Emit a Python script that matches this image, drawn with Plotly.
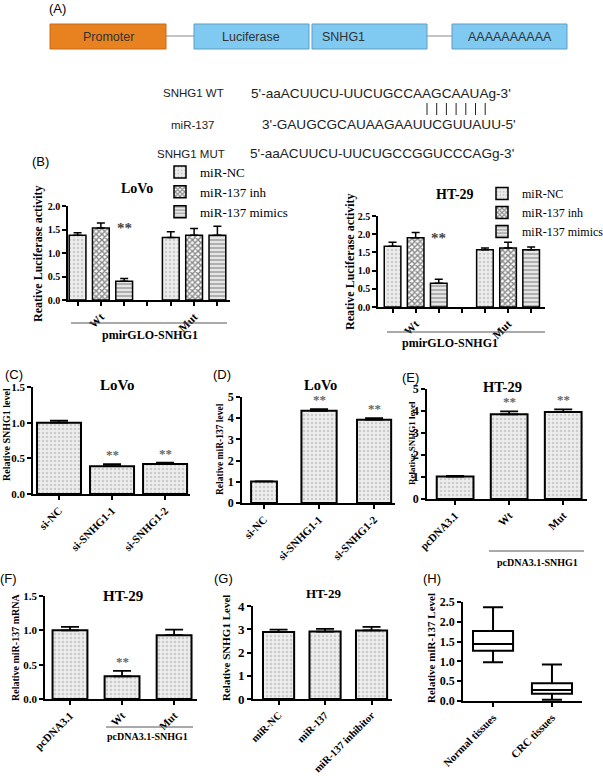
import plotly.graph_objects as go

W, H = 603, 776
SERIF = "Liberation Serif"
SANS = "Liberation Sans"

# ---------------- data ----------------
# Panel B (luciferase)
b_groups = ["Wt", "Mut"]
b_treat = ["miR-NC", "miR-137 inh", "miR-137 mimics"]
lovo_nc, lovo_nc_err = [1.38, 1.33], [0.05, 0.12]
lovo_inh, lovo_inh_err = [1.53, 1.38], [0.11, 0.14]
lovo_mim, lovo_mim_err = [0.40, 1.38], [0.06, 0.19]
ht_nc, ht_nc_err = [1.67, 1.57], [0.11, 0.05]
ht_inh, ht_inh_err = [1.90, 1.62], [0.15, 0.16]
ht_mim, ht_mim_err = [0.65, 1.57], [0.11, 0.08]

# Panel C
c_cats = ["si-NC", "si-SNHG1-1", "si-SNHG1-2"]
c_vals, c_err = [1.00, 0.39, 0.42], [0.03, 0.03, 0.02]
# Panel D
d_cats = ["si-NC", "si-SNHG1-1", "si-SNHG1-2"]
d_vals, d_err = [1.02, 4.35, 3.93], [0.0, 0.08, 0.07]
# Panel E
e_cats = ["pcDNA3.1", "Wt", "Mut"]
e_vals, e_err = [1.02, 3.85, 3.95], [0.03, 0.13, 0.12]
# Panel F
f_cats = ["pcDNA3.1", "Wt", "Mut"]
f_vals, f_err = [1.00, 0.33, 0.93], [0.05, 0.08, 0.08]
# Panel G
g_cats = ["miR-NC", "miR-137", "miR-137 inhibitor"]
g_vals, g_err = [2.88, 2.90, 2.95], [0.10, 0.12, 0.15]
# Panel H (box plot)
h_cats = ["Normal tissues", "CRC tissues"]
h_low = [0.98, 0.03]
h_q1 = [1.27, 0.18]
h_med = [1.44, 0.28]
h_q3 = [1.77, 0.45]
h_high = [2.37, 0.92]

# Panel A texts
a_boxes = ["Promoter", "Luciferase", "SNHG1", "AAAAAAAAAA"]
seq_labels = ["SNHG1 WT", "miR-137", "SNHG1 MUT"]
seq_texts = ["5'-aaACUUCU-UUCUGCCAAGCAAUAg-3'",
             "3'-GAUGCGCAUAAGAAUUCGUUAUU-5'",
             "5'-aaACUUCU-UUCUGCCGGUCCCAGg-3'"]
n_pairs = 7  # base pairs in the seed match

# ---------------- helpers ----------------
def px(x):
    return x / W

def py(y):
    return 1 - y / H

fig = go.Figure()
layout = dict(width=W, height=H, margin=dict(l=0, r=0, t=0, b=0, autoexpand=False),
              paper_bgcolor="white", plot_bgcolor="white",
              barmode="overlay", showlegend=True)
annotations = []
shapes = []

def tfont(size):
    return dict(family=SERIF, size=size, color="black", weight="bold")

def add_axes(i, xpx, ypx, xrange, yrange, dtick, fmt, ysize, xsize,
             tickvals=None, ticktext=None, lw=1.5):
    xa = dict(domain=[px(xpx[0]), px(xpx[1])], range=xrange, anchor="y%d" % i,
              showline=True, linecolor="black", linewidth=lw, ticks="outside",
              ticklen=4, tickwidth=lw, tickcolor="black", tickangle=-45,
              tickfont=tfont(xsize), showgrid=False, zeroline=False, automargin=False)
    if tickvals is not None:
        xa.update(tickmode="array", tickvals=tickvals, ticktext=ticktext)
    ya = dict(domain=[py(ypx[0]), py(ypx[1])], range=yrange, anchor="x%d" % i,
              showline=True, linecolor="black", linewidth=lw, ticks="outside",
              ticklen=4, tickwidth=lw, tickcolor="black", dtick=dtick,
              tickformat=fmt, tickfont=tfont(ysize), showgrid=False,
              zeroline=False, tick0=0, automargin=False)
    layout["xaxis%d" % i if i > 1 else "xaxis"] = xa
    layout["yaxis%d" % i if i > 1 else "yaxis"] = ya

def ax(i):
    return ("x%d" % i if i > 1 else "x"), ("y%d" % i if i > 1 else "y")

def text(x, y, s, size, family=SERIF, bold=True, color="black", angle=0,
         xanchor="center", yanchor="middle"):
    f = dict(family=family, size=size, color=color)
    if bold:
        f["weight"] = "bold"
    annotations.append(dict(x=px(x), y=py(y), xref="paper", yref="paper",
                            text=s, showarrow=False, font=f, textangle=angle,
                            xanchor=xanchor, yanchor=yanchor))

def err(arr, width, th=1.5):
    return dict(type="data", array=arr, arrayminus=[0] * len(arr),
                symmetric=False, color="black", thickness=th, width=width)

dots = dict(shape=".", fgcolor="#a8a8a8", bgcolor="#ededed", size=4, solidity=0.3)
check = dict(shape="x", fgcolor="#111111", bgcolor="#ffffff", size=4, solidity=0.6)
stripes = dict(shape="-", fgcolor="#6e6e6e", bgcolor="#e6e6e6", size=4, solidity=0.45)
patterns = [dots, check, stripes]

# ---------------- Panel A ----------------
box_px = [(50, 166, "#E8811F", "#C86A14"), (194, 309, "#80C9F0", "#5B9DC4"),
          (312, 427, "#80C9F0", "#5B9DC4"), (452, 567, "#80C9F0", "#5B9DC4")]
shapes.append(dict(type="line", xref="paper", yref="paper", x0=px(166), x1=px(194),
                   y0=py(36), y1=py(36), line=dict(color="#b0b0b0", width=1.5)))
shapes.append(dict(type="line", xref="paper", yref="paper", x0=px(427), x1=px(452),
                   y0=py(36), y1=py(36), line=dict(color="#b0b0b0", width=1.5)))
for (x0, x1, fc, lc), lab in zip(box_px, a_boxes):
    shapes.append(dict(type="rect", xref="paper", yref="paper", x0=px(x0), x1=px(x1),
                       y0=py(49), y1=py(24), fillcolor=fc, line=dict(color=lc, width=1)))
text(108, 37, a_boxes[0], 12.5, SANS, False, "#333")
text(251, 37, a_boxes[1], 12.5, SANS, False, "#333")
text(343, 37, a_boxes[2], 12.5, SANS, False, "#333")
text(510, 37, a_boxes[3], 12.5, SANS, False, "#333")
text(57, 9, "(A)", 13, SANS, False)
lab_y = [93, 125, 154]
lab_x = [193, 192, 191]
seq_x = [249, 260, 248]
for lab, s, ly, lx, sx in zip(seq_labels, seq_texts, lab_y, lab_x, seq_x):
    text(lx, ly, lab, 11.5, SANS, False, "#222")
    text(sx, ly, s, 13.6, SANS, False, "#222", xanchor="left")
for k in range(n_pairs):
    xk = 427 + k * 9.7
    shapes.append(dict(type="line", xref="paper", yref="paper", x0=px(xk), x1=px(xk),
                       y0=py(103), y1=py(115), line=dict(color="#222", width=1)))

# ---------------- Panel B ----------------
def panel_b(i, xpx, ypx, xrange, ymax, series, errs, title, tpos, legend):
    add_axes(i, xpx, ypx, xrange, [0, ymax], 0.5, ".1f", 10, 11.5,
             tickvals=list(range(7)), ticktext=["", "Wt", "", "", "", "Mut", ""])
    xa, ya = ax(i)
    for t, (vals, e, name, pat) in enumerate(zip(series, errs, b_treat, patterns)):
        xs = [g * 4 + t for g in range(len(b_groups))]
        fig.add_trace(go.Bar(x=xs, y=vals, width=0.72, name=name, xaxis=xa, yaxis=ya,
                             marker=dict(color=pat["bgcolor"], pattern=pat,
                                         line=dict(color="black", width=1.5)),
                             error_y=err(e, 4), legend=legend))
    annotations.append(dict(x=2, y=series[1][0], xref=xa, yref=ya, text="**",
                            showarrow=False, yanchor="middle",
                            font=dict(family=SERIF, size=15, color="#444", weight="bold")))
    text(tpos[0], tpos[1], title, 14)

panel_b(1, (68, 230), (300, 206), [-0.41, 6.54], 2.0,
        [lovo_nc, lovo_inh, lovo_mim], [lovo_nc_err, lovo_inh_err, lovo_mim_err],
        "LoVo", (137, 188), "legend")
panel_b(2, (378, 545), (307, 216), [-0.63, 6.6], 2.5,
        [ht_nc, ht_inh, ht_mim], [ht_nc_err, ht_inh_err, ht_mim_err],
        "HT-29", (455, 194), "legend2")
text(40, 161, "(B)", 13, SANS, False)
text(38, 254, "Reative Luciferase activity", 12, angle=-90)
text(350, 262, "Reative Luciferase activity", 12, angle=-90)
shapes.append(dict(type="line", xref="paper", yref="paper", x0=px(71), x1=px(227),
                   y0=py(323), y1=py(323), line=dict(color="#555", width=1)))
text(150, 335, "pmirGLO-SNHG1", 12)
shapes.append(dict(type="line", xref="paper", yref="paper", x0=px(387), x1=px(545),
                   y0=py(332), y1=py(332), line=dict(color="#555", width=1)))
text(450, 343, "pmirGLO-SNHG1", 12)

legend_common = dict(bgcolor="rgba(0,0,0,0)",
                     xanchor="left", yanchor="top", itemwidth=30, tracegroupgap=0,
                     itemclick=False, itemdoubleclick=False)
layout["legend"] = dict(x=px(160), y=py(157),
                        font=dict(family=SERIF, size=13, color="black"), **legend_common)
layout["legend2"] = dict(x=px(482), y=py(179),
                         font=dict(family=SERIF, size=12, color="black"), **legend_common)

# ---------------- Panels C-G (simple bars) ----------------
def simple(i, cats, vals, errs, xpx, ypx, xrange, ymax, dtick, fmt, ysize, xsize,
           width, capw, stars):
    add_axes(i, xpx, ypx, xrange, [0, ymax], dtick, fmt, ysize, xsize,
             tickvals=list(range(len(cats))), ticktext=cats, lw=1.8)
    xa, ya = ax(i)
    fig.add_trace(go.Bar(x=list(range(len(cats))), y=vals, width=width, xaxis=xa, yaxis=ya,
                         showlegend=False,
                         marker=dict(color="#ececec", pattern=dots,
                                     line=dict(color="black", width=2)),
                         error_y=err(errs, capw, 1.8)))
    for k in stars:
        annotations.append(dict(x=k, y=vals[k] + errs[k], xref=xa, yref=ya, text="**",
                                showarrow=False, yanchor="bottom", yshift=0,
                                font=dict(family=SERIF, size=13, color="#666", weight="bold")))

# C
simple(3, c_cats, c_vals, c_err, (33, 190), (494, 387), [-0.49, 2.47], 1.5, 0.5, ".1f",
       11, 11, 0.83, 9, [1, 2])
text(14, 374, "(C)", 13, SANS, False)
text(117, 385, "LoVo", 15)
text(6, 435, "Relative SNHG1 level", 10, angle=-90)
# D
simple(4, d_cats, d_vals, d_err, (242, 395), (503, 397), [-0.4, 2.38], 5, 1, "d",
       12, 11, [0.47, 0.64, 0.62], 9, [1, 2])
text(222, 374, "(D)", 13, SANS, False)
text(320, 385, "LoVo", 14.5)
text(220, 449, "Relative miR-137 level", 9.5, angle=-90)
# E
simple(5, e_cats, e_vals, e_err, (427, 587), (499, 389), [-0.52, 2.44], 5, 1, "d",
       12, 11, 0.68, 9, [1, 2])
text(410, 377, "(E)", 13, SANS, False)
text(502, 387, "HT-29", 14.5)
text(412, 443, "Relative SNHG1 level", 9, angle=-90)
shapes.append(dict(type="line", xref="paper", yref="paper", x0=px(489), x1=px(584),
                   y0=py(551), y1=py(551), line=dict(color="#555", width=1)))
text(537, 562, "pcDNA3.1-SNHG1", 10)
# F
simple(6, f_cats, f_vals, f_err, (45, 197), (699, 596), [-0.48, 2.44], 1.5, 0.5, ".1f",
       11, 11, 0.67, 9, [1])
text(8, 578, "(F)", 13, SANS, False)
text(123, 596, "HT-29", 15)
text(15, 648, "Relative miR-137 mRNA", 10, angle=-90)
shapes.append(dict(type="line", xref="paper", yref="paper", x0=px(106), x1=px(193),
                   y0=py(727), y1=py(727), line=dict(color="#555", width=1)))
text(147, 736, "pcDNA3.1-SNHG1", 10)
# G
simple(7, g_cats, g_vals, g_err, (253, 392), (699, 606), [-0.55, 2.44], 4, 1, "d",
       13, 10.5, 0.67, 9, [])
text(224, 578, "(G)", 13, SANS, False)
text(323, 593, "HT-29", 13)
text(226, 648, "Relative SNHG1 Level", 11, angle=-90)

# ---------------- Panel H (box) ----------------
add_axes(8, (463, 582), (701, 602), [-0.51, 1.51], [0, 2.5], 0.5, ".1f", 12, 11,
         tickvals=[0, 1], ticktext=h_cats, lw=1.8)
fig.add_trace(go.Box(x=[0, 1], q1=h_q1, median=h_med, q3=h_q3, lowerfence=h_low,
                     upperfence=h_high, xaxis="x8", yaxis="y8", showlegend=False,
                     fillcolor="white", line=dict(color="black", width=2),
                     whiskerwidth=0.5, width=0.68, boxpoints=False))
text(432, 578, "(H)", 13, SANS, False)
text(431, 648, "Relative miR-137 Level", 11, angle=-90)

layout["annotations"] = annotations
layout["shapes"] = shapes
fig.update_layout(**layout)
fig.write_html("out.html", config={"displayModeBar": False},
               post_script="document.body.style.margin='0';"
                           "document.body.style.padding='0';"
                           "document.body.style.overflow='hidden';")
